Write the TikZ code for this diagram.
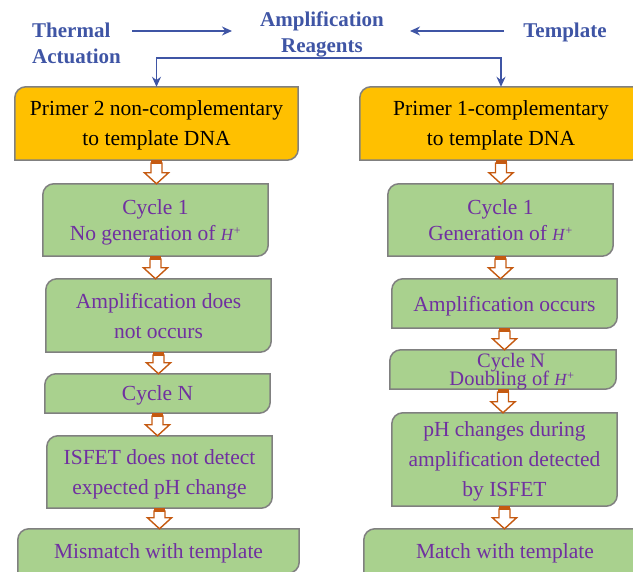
\documentclass[tikz,border=0pt]{standalone}
\usepackage{fontspec}
\setmainfont{Liberation Serif}
\usetikzlibrary{arrows.meta,calc,backgrounds}
\definecolor{hdrblue}{HTML}{3F55A5}
\definecolor{txtpurple}{HTML}{7030A0}
\definecolor{boxyellow}{HTML}{FFC000}
\definecolor{boxgreen}{HTML}{A9D18E}
\definecolor{boxedge}{HTML}{808080}
\definecolor{arrorange}{HTML}{C55A11}
\tikzset{
  hdr/.style={font=\fontsize{21}{26}\selectfont\bfseries, text=hdrblue, inner sep=0pt},
  bluearr/.style={hdrblue, line width=1.4pt, -{Stealth[length=10pt,width=9pt]}},
  flowbox/.style={inner sep=0pt, align=center, text depth=0pt, font=\fontsize{21.5}{30}\selectfont},
  ybox/.style={flowbox, text=black},
  gbox/.style={flowbox, text=txtpurple}
}
\newcommand{\hplus}{{\fontsize{17}{17}\selectfont\textit{H}\textsuperscript{+}}}
\newcommand{\boxshape}[2]{%
  \filldraw[fill=#2, draw=boxedge, line width=1.5pt] (#1.west) [rounded corners=11pt] -- (#1.north west) -- (#1.north)
    [sharp corners] -- (#1.north east) -- (#1.east) [rounded corners=11pt] -- (#1.south east) -- (#1.south)
    [sharp corners] -- (#1.south west) -- cycle;}
\newcommand{\hollowarr}[2]{%
  \fill[arrorange] ($(#1.south)+(-5.5,0)$) rectangle ($(#1.south)+(5.5,3)$);
  \draw[arrorange, fill=white, line width=1.4pt, line join=miter]
    ($(#1.south)+(-5.5,3)$) -- ($(#1.south |- #2.north)+(-5.5,-11)$) -- ++(-6.5,0)
    -- (#1.south |- #2.north) -- ++(12,-11) -- ++(-6.5,0) -- ($(#1.south)+(5.5,3)$) -- cycle;}

\begin{document}
\begin{tikzpicture}[x=1pt,y=-1pt]
\useasboundingbox (0,0) rectangle (633,572);

\node[hdr, anchor=west, align=left] (thermal) at (32,43) {Thermal\\Actuation};
\node[hdr, align=center] (ampreag) at (322,34) {Amplification\\Reagents};
\node[hdr] (template) at (565,32) {Template};
\coordinate (split) at (328,58);

\draw[bluearr] ([shift={(11,-12)}]thermal.east) -- ([shift={(-28,-3)}]ampreag.west);
\draw[bluearr] ([shift={(-19,-1)}]template.west) -- ([shift={(26,-3)}]ampreag.east);

\node[ybox, minimum width=283, minimum height=73] (prim2) at (156.5,123.5) {Primer 2 non-complementary\\to template DNA};
\node[ybox, minimum width=282, minimum height=73] (prim1) at (501,123.5) {Primer 1-complementary\\to template DNA};

\draw[bluearr] (split) -| (prim2.north);
\draw[bluearr] (split) -| (prim1.north);

\node[gbox, font=\fontsize{21.5}{26}\selectfont, minimum width=225, minimum height=72] (cyc1L) at (155.5,220) {Cycle 1\\No generation of \hplus};
\node[gbox, minimum width=225, minimum height=73] (ampL) at (158.5,315.5) {Amplification does\\not occurs};
\node[gbox, minimum width=225, minimum height=39] (cycNL) at (157.5,393.5) {Cycle N};
\node[gbox, minimum width=225, minimum height=72] (isfetL) at (159.5,472) {ISFET does not detect\\expected pH change};
\node[gbox, minimum width=281, minimum height=44] (misL) at (158.5,551) {Mismatch with template};

\node[gbox, font=\fontsize{21.5}{26}\selectfont, minimum width=225, minimum height=72] (cyc1R) at (500.5,220) {Cycle 1\\Generation of \hplus};
\node[gbox, minimum width=225, minimum height=49] (ampR) at (504.5,303.5) {Amplification occurs};
\node[gbox, font={\fontsize{20.5}{18.5}\selectfont\lineskiplimit=-100pt}, minimum width=226, minimum height=39] (cycNR) at (503,369.5) {\hspace*{16pt}Cycle N\\\hspace*{18pt}Doubling of \hplus};
\node[gbox, minimum width=225, minimum height=93] (phR) at (504.5,459.5) {pH changes during\\amplification detected\\by ISFET};
\node[gbox, minimum width=282, minimum height=44] (matR) at (505,551) {Match with template};

\begin{scope}[on background layer]
\boxshape{prim2}{boxyellow}
\boxshape{prim1}{boxyellow}
\foreach \n in {cyc1L,ampL,cycNL,isfetL,misL,cyc1R,ampR,cycNR,phR,matR}
  \boxshape{\n}{boxgreen};
\end{scope}

\foreach \a/\b in {prim2/cyc1L,cyc1L/ampL,ampL/cycNL,cycNL/isfetL,isfetL/misL,
                   prim1/cyc1R,cyc1R/ampR,ampR/cycNR,cycNR/phR,phR/matR}
  \hollowarr{\a}{\b};

\end{tikzpicture}
\end{document}
